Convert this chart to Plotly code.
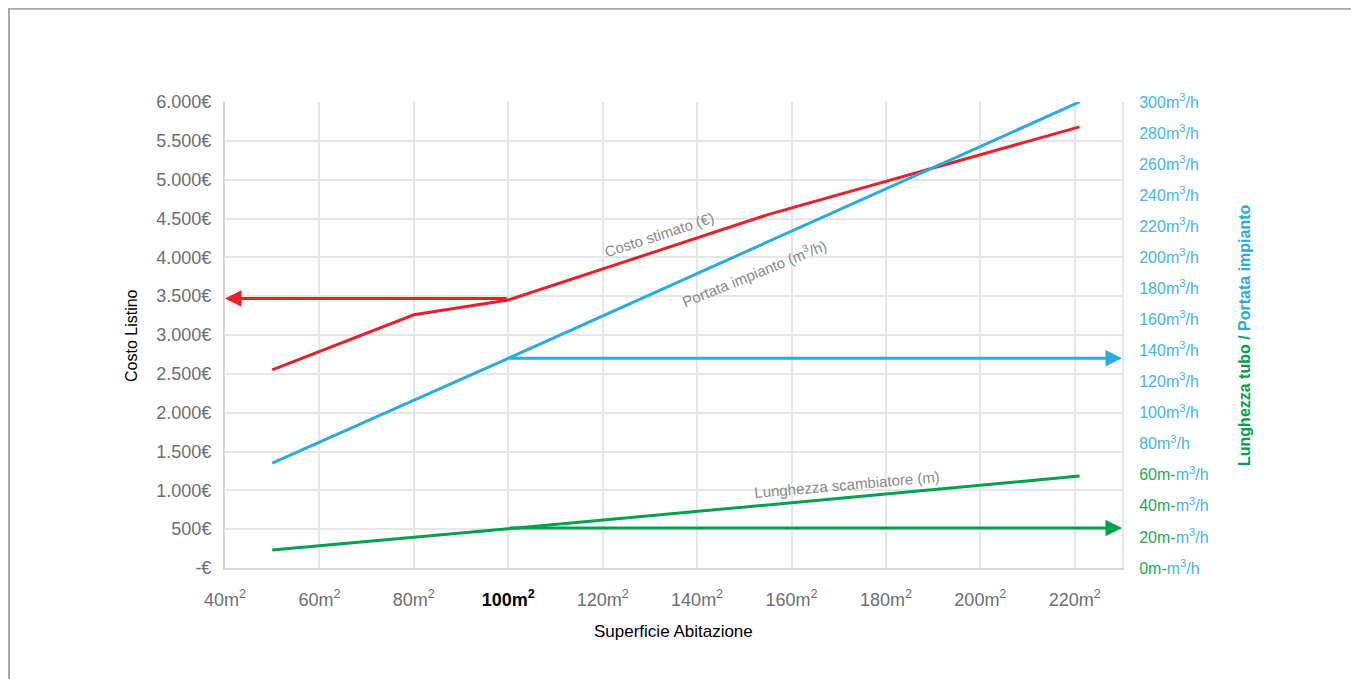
import plotly.graph_objects as go

# ---- data ----
area_ticks = [40, 60, 80, 100, 120, 140, 160, 180, 200, 220]
area_labels = ["40m<sup>2</sup>", "60m<sup>2</sup>", "80m<sup>2</sup>",
               "<span style='color:#000000'><b>100m<sup>2</sup></b></span>",
               "120m<sup>2</sup>", "140m<sup>2</sup>", "160m<sup>2</sup>",
               "180m<sup>2</sup>", "200m<sup>2</sup>", "220m<sup>2</sup>"]

cost_x = [50, 80, 100, 155, 221]
cost_y = [2550, 3260, 3450, 4550, 5680]

flow_x = [50, 100, 221]
flow_y = [67.5, 135, 300]

length_x = [50, 100, 221]
length_y = [11.6, 25.2, 59.2]

cost_ticks = [0, 500, 1000, 1500, 2000, 2500, 3000, 3500, 4000, 4500, 5000, 5500, 6000]
cost_labels = ["-€", "500€", "1.000€", "1.500€", "2.000€", "2.500€", "3.000€",
               "3.500€", "4.000€", "4.500€", "5.000€", "5.500€", "6.000€"]

right_ticks = list(range(0, 301, 20))
right_green = [0, 20, 40, 60]

example_area = 100
example_cost = 3470
example_flow = 135
example_length = 25.7

RED = "#e8202a"
BLUE = "#29abe2"
GREEN = "#00a14b"
TBLUE = "#45b4e6"
TGREEN = "#1fa955"
GRAY = "#6e6e6e"
FONT = "Liberation Sans, Arial, sans-serif"

right_labels = []
for v in right_ticks:
    if v in right_green:
        right_labels.append(f"<span style='color:{TGREEN}'>{v}m-</span>m<sup>3</sup>/h")
    else:
        right_labels.append(f"{v}m<sup>3</sup>/h")

fig = go.Figure()
fig.add_trace(go.Scatter(x=cost_x, y=cost_y, mode="lines", line=dict(color=RED, width=3),
                         yaxis="y", showlegend=False))
fig.add_trace(go.Scatter(x=flow_x, y=flow_y, mode="lines", line=dict(color=BLUE, width=3),
                         yaxis="y2", showlegend=False))
fig.add_trace(go.Scatter(x=length_x, y=length_y, mode="lines", line=dict(color=GREEN, width=3),
                         yaxis="y2", showlegend=False))

annotations = [
    # arrows
    dict(x=40, y=example_cost, ax=example_area, ay=example_cost, xref="x", yref="y",
         axref="x", ayref="y", text="", showarrow=True, arrowhead=2, arrowsize=1.1,
         arrowwidth=3, arrowcolor=RED),
    dict(x=230, y=example_flow, ax=example_area, ay=example_flow, xref="x", yref="y2",
         axref="x", ayref="y2", text="", showarrow=True, arrowhead=2, arrowsize=1.1,
         arrowwidth=3, arrowcolor=BLUE),
    dict(x=230, y=example_length, ax=example_area, ay=example_length, xref="x", yref="y2",
         axref="x", ayref="y2", text="", showarrow=True, arrowhead=2, arrowsize=1.1,
         arrowwidth=3, arrowcolor=GREEN),
    # inline labels
    dict(x=132, y=4300, xref="x", yref="y", text="Costo stimato (€)", showarrow=False,
         textangle=-18, font=dict(family=FONT, size=15, color="#8a8a8a")),
    dict(x=152, y=190, xref="x", yref="y2", text="Portata impianto (m<sup>3</sup>/h)",
         showarrow=False, textangle=-22, font=dict(family=FONT, size=15, color="#8a8a8a")),
    dict(x=171.7, y=54, xref="x", yref="y2", text="Lunghezza scambiatore (m)",
         showarrow=False, textangle=-5, font=dict(family=FONT, size=15, color="#8a8a8a")),
    # axis titles
    dict(x=-0.1048, y=0.5, xref="paper", yref="paper", xanchor="center", yanchor="middle",
         text="Costo Listino", showarrow=False,
         textangle=-90, font=dict(family=FONT, size=16, color="#000000")),
    dict(x=0.5, y=-0.137, xref="paper", yref="paper", xanchor="center", yanchor="middle",
         text="Superficie Abitazione",
         showarrow=False, font=dict(family=FONT, size=17, color="#000000")),
    dict(x=1.136, y=0.5, xref="paper", yref="paper", xanchor="center", yanchor="middle",
         text=f"<b><span style='color:{GREEN}'>Lunghezza tubo / </span>"
              f"<span style='color:{BLUE}'>Portata impianto</span></b>",
         showarrow=False, textangle=-90, font=dict(family=FONT, size=16)),
]

shapes = [
    dict(type="line", xref="paper", yref="paper", x0=-0.2419, x1=1.3, y0=1.2, y1=1.2,
         line=dict(color="#a8a8a8", width=2)),
    dict(type="line", xref="paper", yref="paper", x0=-0.2408, x1=-0.2408, y0=1.2, y1=-0.3,
         line=dict(color="#a8a8a8", width=2)),
]

fig.update_layout(
    width=1359, height=679,
    margin=dict(l=217, r=245, t=94, b=119),
    paper_bgcolor="white", plot_bgcolor="white",
    font=dict(family=FONT, size=18, color=GRAY),
    showlegend=False,
    xaxis=dict(range=[40, 230], tickvals=area_ticks, ticktext=area_labels,
               showgrid=True, gridcolor="#e6e6e6", gridwidth=2,
               showline=True, linecolor="#d8d8d8", linewidth=2, zeroline=False,
               ticks="", ticklabelstandoff=14,
               tickfont=dict(family=FONT, size=18, color=GRAY)),
    yaxis=dict(range=[0, 6000], tickvals=cost_ticks, ticktext=cost_labels,
               showgrid=True, gridcolor="#e6e6e6", gridwidth=2,
               showline=True, linecolor="#d8d8d8", linewidth=2, zeroline=False,
               ticks="", ticklabelstandoff=8,
               tickfont=dict(family=FONT, size=18, color=GRAY)),
    yaxis2=dict(range=[0, 300], tickvals=right_ticks, ticktext=right_labels,
                overlaying="y", side="right", showgrid=False, zeroline=False,
                showline=True, linecolor="#e6e6e6", linewidth=2,
                ticks="", ticklabelstandoff=12,
                tickfont=dict(family=FONT, size=16, color=TBLUE)),
    annotations=annotations,
    shapes=shapes,
)

fig.write_html("out.html")
